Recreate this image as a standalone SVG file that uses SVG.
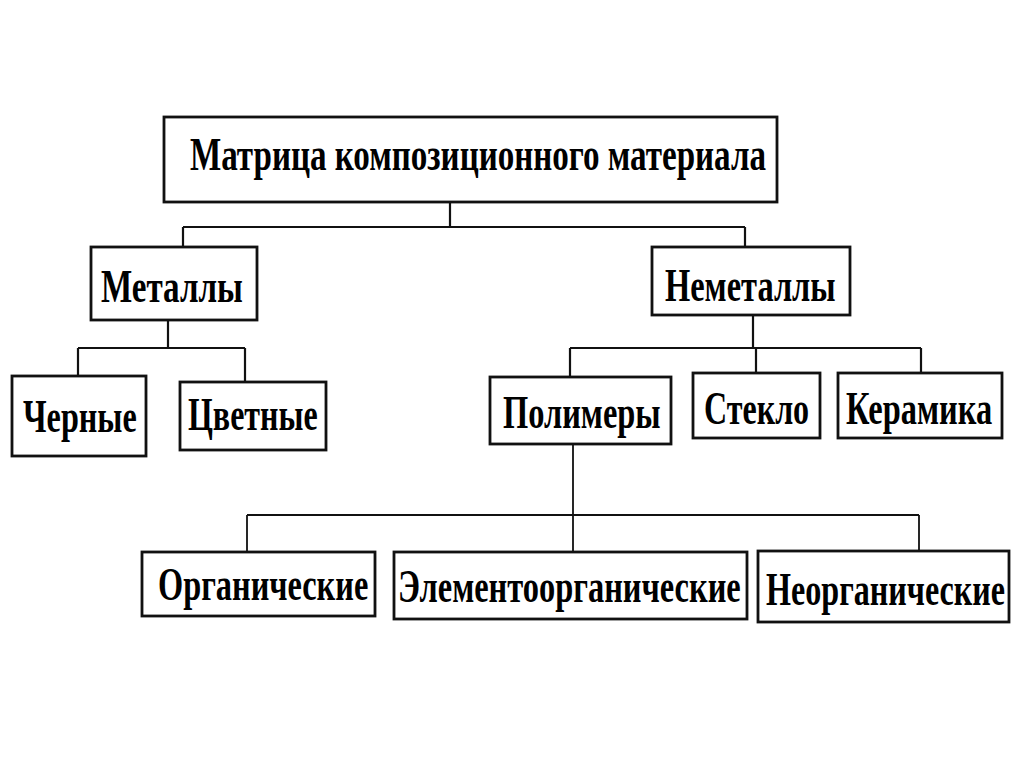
<svg xmlns="http://www.w3.org/2000/svg" width="1024" height="767" viewBox="0 0 1024 767">
<style>
.box{fill:#fff;stroke:#111;stroke-width:2.8}
.lbl{font-family:"Liberation Serif","Times New Roman",serif;font-weight:bold;font-size:47px;fill:#000}
.conn{fill:none;stroke:#111;stroke-width:2.2}
</style>
<rect x="0" y="0" width="1024" height="767" fill="#fff"/>
<g id="connectors" class="conn">
<path d="M450 202V227M183 227H745M183 227V247M745 227V247"/>
<path d="M168 320V348M78 348H245M78 348V376M245 348V382"/>
<path d="M753 315V348M570 348H921M570 348V377M756 348V373M921 348V373"/>
<path d="M573 444V515M247 515H919M247 515V552M573 515V552M919 515V551" stroke-width="1.8"/>
</g>
<g id="n-matrix"><rect class="box" x="164" y="117" width="613" height="85"/><text class="lbl" transform="translate(190,170) scale(0.72,1)" textLength="800" lengthAdjust="spacingAndGlyphs">Матрица композиционного материала</text></g>
<g id="n-metals"><rect class="box" x="91" y="247" width="166" height="73"/><text class="lbl" transform="translate(101,302) scale(0.72,1)" textLength="197" lengthAdjust="spacingAndGlyphs">Металлы</text></g>
<g id="n-nonmetals"><rect class="box" x="652" y="247" width="198" height="68"/><text class="lbl" transform="translate(665,301) scale(0.72,1)" textLength="237" lengthAdjust="spacingAndGlyphs">Неметаллы</text></g>
<g id="n-black"><rect class="box" x="12" y="376" width="134" height="80"/><text class="lbl" transform="translate(23,432) scale(0.72,1)" textLength="158" lengthAdjust="spacingAndGlyphs">Черные</text></g>
<g id="n-color"><rect class="box" x="180" y="382" width="146" height="68"/><text class="lbl" transform="translate(188,430) scale(0.72,1)" textLength="180" lengthAdjust="spacingAndGlyphs">Цветные</text></g>
<g id="n-polymers"><rect class="box" x="490" y="377" width="181" height="67"/><text class="lbl" transform="translate(503,428) scale(0.72,1)" textLength="219" lengthAdjust="spacingAndGlyphs">Полимеры</text></g>
<g id="n-glass"><rect class="box" x="693" y="373" width="127" height="65"/><text class="lbl" transform="translate(704,424) scale(0.72,1)" textLength="146" lengthAdjust="spacingAndGlyphs">Стекло</text></g>
<g id="n-ceramics"><rect class="box" x="838" y="373" width="164" height="65"/><text class="lbl" transform="translate(846,424) scale(0.72,1)" textLength="203" lengthAdjust="spacingAndGlyphs">Керамика</text></g>
<g id="n-organic"><rect class="box" x="142" y="552" width="233" height="64"/><text class="lbl" transform="translate(158,600) scale(0.72,1)" textLength="292" lengthAdjust="spacingAndGlyphs">Органические</text></g>
<g id="n-elementorganic"><rect class="box" x="394" y="552" width="353" height="67"/><text class="lbl" transform="translate(398,602) scale(0.72,1)" textLength="476" lengthAdjust="spacingAndGlyphs">Элементоорганические</text></g>
<g id="n-inorganic"><rect class="box" x="758" y="551" width="251" height="71"/><text class="lbl" transform="translate(766,605) scale(0.72,1)" textLength="332" lengthAdjust="spacingAndGlyphs">Неорганические</text></g>
</svg>
